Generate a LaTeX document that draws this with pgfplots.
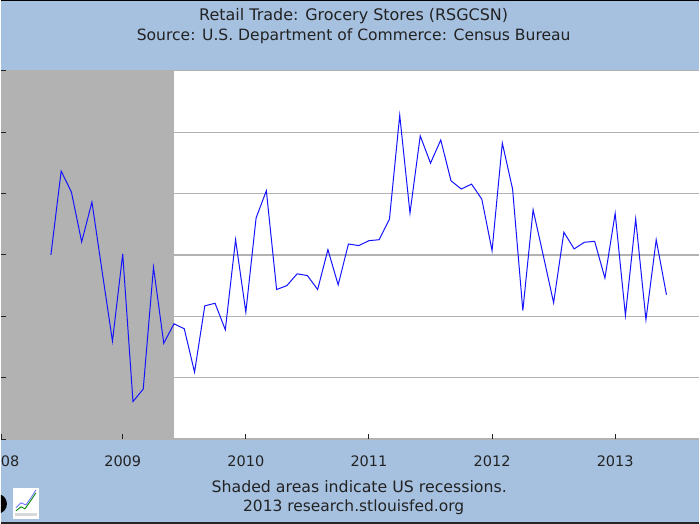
\documentclass[border=0pt]{standalone}
\usepackage{pgfplots}
\pgfplotsset{compat=1.18}
\usepackage{fontspec}
\setmainfont{DejaVu Sans}

\definecolor{fredblue}{RGB}{166,193,224}
\definecolor{recgray}{RGB}{178,178,178}
\definecolor{gridgray}{RGB}{178,178,178}
\definecolor{axgray}{RGB}{120,120,120}
\definecolor{txt}{RGB}{34,34,34}

\pgfplotsset{
  fredframe/.style={
    at={(0pt,85pt)}, anchor=south west,
    scale only axis,
    width=700pt, height=369pt,
    xmin=0.136, xmax=68.21,
    ymin=-1.5, ymax=1.5,
    xtick={0.136,12,24,36,48,60},
    ytick={-1.5,-1,-0.5,0,0.5,1,1.5},
    ticklabel style={inner sep=0pt, outer sep=0pt},
  },
}

% month index (0 = Jan 2008), value
\pgfplotstableread{
m v
5 0.000
6 0.683
7 0.512
8 0.106
9 0.431
10 -0.138
11 -0.703
12 0.008
13 -1.195
14 -1.093
15 -0.100
16 -0.720
17 -0.561
18 -0.602
19 -0.955
20 -0.415
21 -0.394
22 -0.610
23 0.124
24 -0.466
25 0.301
26 0.523
27 -0.282
28 -0.250
29 -0.154
30 -0.168
31 -0.282
32 0.043
33 -0.244
34 0.089
35 0.076
36 0.116
37 0.124
38 0.293
39 1.138
40 0.341
41 0.970
42 0.748
43 0.937
44 0.604
45 0.537
46 0.577
47 0.455
48 0.035
49 0.911
50 0.537
51 -0.453
52 0.368
53 -0.008
54 -0.390
55 0.185
56 0.049
57 0.103
58 0.111
59 -0.189
60 0.339
61 -0.493
62 0.293
63 -0.528
64 0.124
65 -0.325
}\grocery

\begin{document}
\begin{tikzpicture}
\fill[fredblue] (0pt,0pt) rectangle (700pt,525pt);

% background axis: white area, grid, recession bar
\begin{axis}[
  fredframe,
  axis background/.style={fill=white},
  xticklabels={}, yticklabels={},
  major tick length=0pt,
  axis line style={draw=none},
  ymajorgrids,
  grid style={gridgray, line width=1.2pt},
]
\addplot[fill=recgray, draw=none]
  coordinates {(0.136,-1.5) (17,-1.5) (17,1.5) (0.136,1.5)} -- cycle;
\end{axis}

% front axis: frame, ticks, labels, series
\begin{axis}[
  fredframe,
  xticklabels={\makebox[0pt][l]{08},2009,2010,2011,2012,2013},
  yticklabels={},
  xtick pos=lower, ytick pos=left,
  tick align=inside,
  major tick length=5pt,
  tick style={txt, line width=0.9pt},
  x axis line style={axgray, line width=0.8pt},
  y axis line style={draw=none},
  xticklabel style={anchor=base, yshift=-28pt, font=\fontsize{14.5}{17}\selectfont, text=txt},
]
\addplot[color={rgb,255:red,20;green,20;blue,255}, line width=1pt] table[x=m, y=v] {\grocery};
\end{axis}

\node[anchor=base, font=\fontsize{16}{18}\selectfont, text=txt] at (353.5pt,504pt) {Retail Trade: Grocery Stores (RSGCSN)};
\node[anchor=base, font=\fontsize{15.6}{18}\selectfont, text=txt] at (353.5pt,484pt) {Source: U.S. Department of Commerce: Census Bureau};
\node[anchor=base, font=\fontsize{15.8}{18}\selectfont, text=txt] at (359pt,31pt) {Shaded areas indicate US recessions.};
\node[anchor=base, font=\fontsize{15.5}{18}\selectfont, text=txt] at (353.5pt,12.5pt) {2013 research.stlouisfed.org};

% logo fragment
\fill[black] (0pt,10.83pt) arc[start angle=-66.4, end angle=66.4, radius=10pt] -- cycle;
\fill[white] (12pt,5pt) rectangle (38pt,36pt);
\fill[black!15] (14pt,8pt) rectangle (36pt,11pt);
\draw[green!55!black, line width=0.9pt] (15pt,13pt) -- (20pt,17pt) -- (24pt,15pt) -- (29pt,22pt) -- (35pt,31pt);
\draw[blue!55, line width=0.9pt] (15pt,16pt) -- (20pt,21pt) -- (25pt,19pt) -- (30pt,26pt) -- (35pt,34pt);

\fill[black] (0pt,523.5pt) rectangle (700pt,525pt);
\fill[black!85] (0pt,0pt) rectangle (700pt,1.5pt);
\end{tikzpicture}
\end{document}
